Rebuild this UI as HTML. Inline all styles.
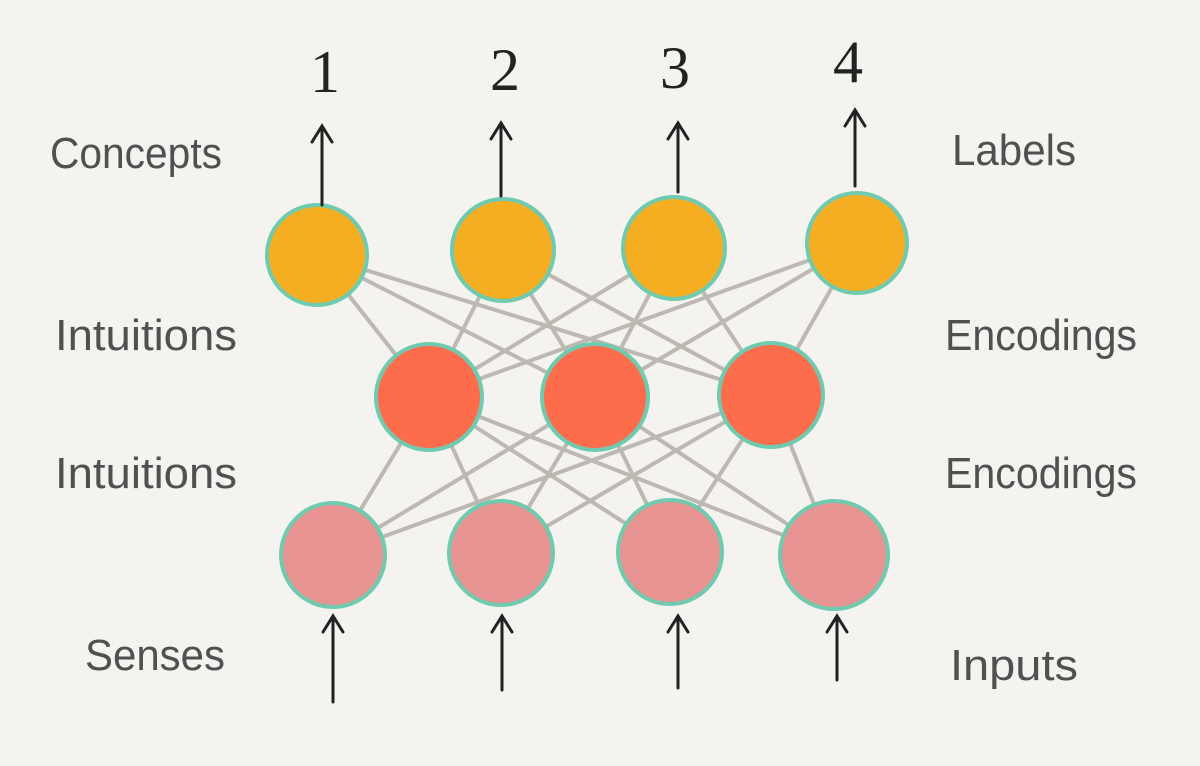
<!DOCTYPE html>
<html><head><meta charset="utf-8"><style>
body{margin:0;background:#f4f3f0;}
svg{display:block}
.l{font-family:"Liberation Sans Narrow","Liberation Sans",sans-serif;fill:#505050}
.n{font-family:"Liberation Serif",serif;fill:#222}
</style></head><body>
<svg width="1200" height="766" viewBox="0 0 1200 766">
<rect width="1200" height="766" fill="#f4f3f0"/>
<g stroke="#bdb8b1" stroke-width="4" stroke-linecap="round">
<line x1="317" y1="255" x2="429" y2="397"/><line x1="317" y1="255" x2="595" y2="397"/><line x1="317" y1="255" x2="771" y2="395"/>
<line x1="503" y1="250" x2="429" y2="397"/><line x1="503" y1="250" x2="595" y2="397"/><line x1="503" y1="250" x2="771" y2="395"/>
<line x1="674" y1="248" x2="429" y2="397"/><line x1="674" y1="248" x2="595" y2="397"/><line x1="674" y1="248" x2="771" y2="395"/>
<line x1="857" y1="243" x2="429" y2="397"/><line x1="857" y1="243" x2="595" y2="397"/><line x1="857" y1="243" x2="771" y2="395"/>
<line x1="333" y1="555" x2="429" y2="397"/><line x1="333" y1="555" x2="595" y2="397"/><line x1="333" y1="555" x2="771" y2="395"/>
<line x1="501" y1="553" x2="429" y2="397"/><line x1="501" y1="553" x2="595" y2="397"/><line x1="501" y1="553" x2="771" y2="395"/>
<line x1="670" y1="552" x2="429" y2="397"/><line x1="670" y1="552" x2="595" y2="397"/><line x1="670" y1="552" x2="771" y2="395"/>
<line x1="834" y1="555" x2="429" y2="397"/><line x1="834" y1="555" x2="595" y2="397"/><line x1="834" y1="555" x2="771" y2="395"/>
</g>
<g stroke="#6fcab0" stroke-width="4">
<g fill="#f5ae22"><circle cx="317" cy="255" r="50"/><circle cx="503" cy="250" r="51"/><circle cx="674" cy="248" r="51"/><circle cx="857" cy="243" r="50"/></g>
<g fill="#fe6d4b"><circle cx="429" cy="397" r="53"/><circle cx="595" cy="397" r="53"/><circle cx="771" cy="395" r="52"/></g>
<g fill="#e79391"><circle cx="333" cy="555" r="52"/><circle cx="501" cy="553" r="52"/><circle cx="670" cy="552" r="52"/><circle cx="834" cy="555" r="54"/></g>
</g>
<g stroke="#222" stroke-width="3" fill="none" stroke-linecap="round">
<path d="M322 205V128M312 142L322 126L332 142"/>
<path d="M501 196V125M491 139L501 123L511 139"/>
<path d="M678 192V125M668 139L678 123L688 139"/>
<path d="M855 186V112M845 126L855 110L865 126"/>
<path d="M333 702V618M323 632L333 616L343 632"/>
<path d="M502 690V618M492 632L502 616L512 632"/>
<path d="M678 688V618M668 632L678 616L688 632"/>
<path d="M837 680V618M827 632L837 616L847 632"/>
</g>
<g font-size="60" text-anchor="middle" class="n">
<text class="n" x="325" y="92">1</text><text class="n" x="505" y="90">2</text><text class="n" x="675" y="88">3</text><text class="n" x="848" y="82">4</text>
</g>
<g font-size="44" class="l" lengthAdjust="spacingAndGlyphs">
<text class="l" x="50" y="168" textLength="172" lengthAdjust="spacingAndGlyphs">Concepts</text>
<text class="l" x="952" y="165" textLength="124" lengthAdjust="spacingAndGlyphs">Labels</text>
<text class="l" x="55" y="350" textLength="182" lengthAdjust="spacingAndGlyphs">Intuitions</text>
<text class="l" x="945" y="350" textLength="192" lengthAdjust="spacingAndGlyphs">Encodings</text>
<text class="l" x="55" y="488" textLength="182" lengthAdjust="spacingAndGlyphs">Intuitions</text>
<text class="l" x="945" y="488" textLength="192" lengthAdjust="spacingAndGlyphs">Encodings</text>
<text class="l" x="85" y="670" textLength="140" lengthAdjust="spacingAndGlyphs">Senses</text>
<text class="l" x="950" y="680" textLength="128" lengthAdjust="spacingAndGlyphs">Inputs</text>
</g>
</svg>
</body></html>
